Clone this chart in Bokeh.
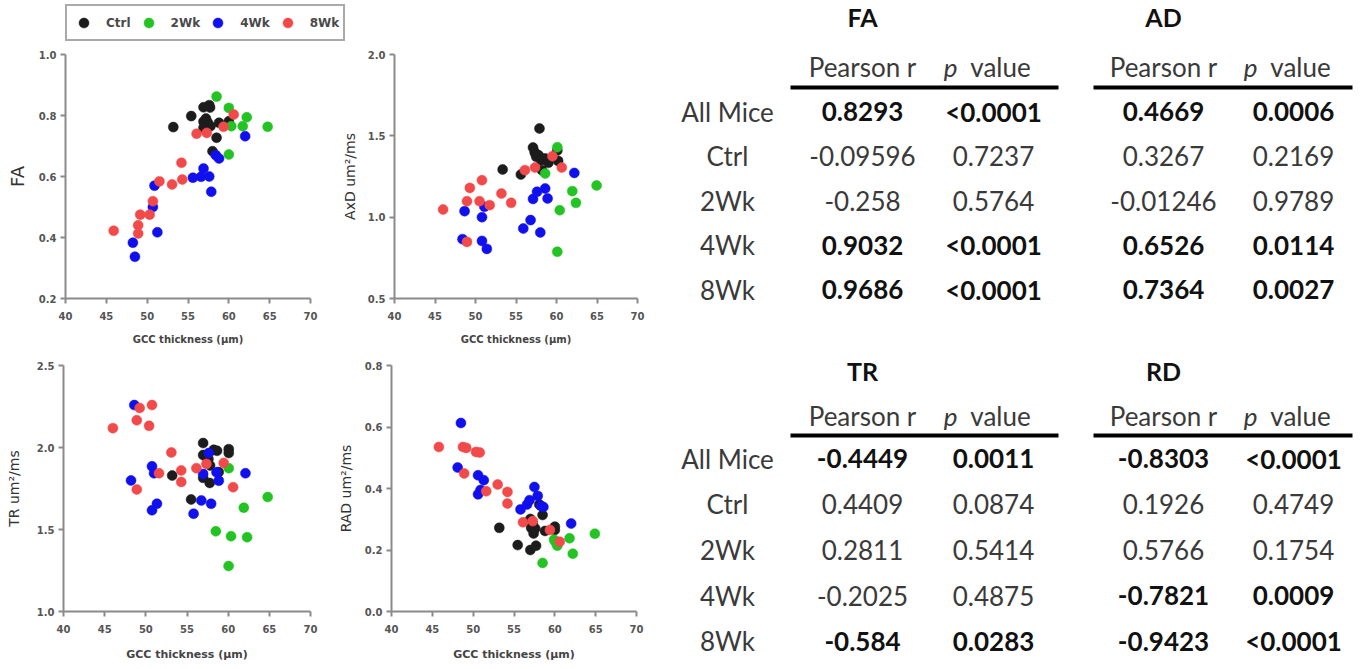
from bokeh.plotting import figure
from bokeh.models import (Range1d, FixedTicker, PrintfTickFormatter, Legend,
                          LegendItem, ColumnDataSource)
from bokeh.layouts import row, column
from bokeh.embed import file_html
from bokeh.resources import INLINE
from bokeh.core.properties import value

# ---------------- data ----------------
GROUPS = ["Ctrl", "2Wk", "4Wk", "8Wk"]
COLORS = ["#1c1c1c", "#22c322", "#1010ee", "#f24a4a"]
X_TICKS = [40, 45, 50, 55, 60, 65, 70]

FA_CTRL = [(53.2, 0.762), (55.4, 0.798), (56.9, 0.827), (57.6, 0.834), (57.7, 0.826),
           (57.2, 0.790), (56.9, 0.780), (57.4, 0.778), (57.75, 0.765), (56.9, 0.760),
           (58.8, 0.776), (60.0, 0.781), (58.5, 0.727), (58.0, 0.683)]
FA_2WK = [(58.5, 0.862), (60.0, 0.825), (62.2, 0.794), (61.7, 0.765), (60.3, 0.765),
          (64.75, 0.763), (60.0, 0.672)]
FA_4WK = [(62.0, 0.732), (58.4, 0.670), (58.8, 0.659), (56.9, 0.626), (55.6, 0.596),
          (56.6, 0.599), (57.6, 0.600), (57.85, 0.550), (50.9, 0.570), (50.7, 0.500),
          (51.25, 0.417), (48.25, 0.383), (48.5, 0.337)]
FA_8WK = [(45.9, 0.422), (48.9, 0.440), (48.9, 0.413), (49.15, 0.475), (50.3, 0.475),
          (50.7, 0.519), (51.5, 0.584), (53.05, 0.574), (54.3, 0.590), (54.2, 0.645),
          (56.05, 0.740), (57.3, 0.743), (59.35, 0.763), (60.6, 0.803)]

AXD_CTRL = [(57.9, 1.545), (57.1, 1.428), (57.3, 1.400), (57.8, 1.380), (57.5, 1.371),
            (58.1, 1.350), (58.6, 1.361), (59.0, 1.334), (60.2, 1.346), (60.1, 1.410),
            (53.35, 1.293), (55.6, 1.262), (58.2, 1.289), (57.4, 1.390)]
AXD_2WK = [(60.1, 1.430), (58.6, 1.268), (61.95, 1.160), (62.4, 1.088), (64.95, 1.195),
           (60.4, 1.043), (60.1, 0.787)]
AXD_4WK = [(62.2, 1.272), (58.6, 1.176), (57.6, 1.156), (57.1, 1.112), (58.9, 1.115),
           (56.8, 0.982), (55.9, 0.930), (58.0, 0.906), (51.1, 1.064), (50.8, 1.000),
           (50.8, 0.854), (51.4, 0.805), (48.65, 1.037), (48.4, 0.865)]
AXD_8WK = [(46.0, 1.047), (48.95, 0.848), (48.95, 1.098), (49.3, 1.180), (50.5, 1.098),
           (50.8, 1.227), (51.75, 1.074), (53.2, 1.145), (54.4, 1.088), (56.1, 1.289),
           (57.35, 1.305), (59.5, 1.375), (60.65, 1.305)]

TR_CTRL = [(56.96, 2.027), (58.25, 1.986), (58.65, 1.980), (60.07, 1.990), (60.07, 1.966),
           (56.96, 1.954), (57.3, 1.945), (53.2, 1.829), (57.76, 1.784), (56.96, 1.815),
           (55.5, 1.683), (57.8, 1.890), (58.85, 1.850), (57.6, 1.930)]
TR_2WK = [(60.07, 1.874), (64.8, 1.698), (61.9, 1.633), (58.5, 1.489), (60.35, 1.459),
          (62.3, 1.453), (60.05, 1.277)]
TR_4WK = [(48.6, 2.259), (48.2, 1.799), (50.75, 1.885), (51.0, 1.843), (51.35, 1.657),
          (50.75, 1.617), (55.8, 1.596), (56.74, 1.677), (57.93, 1.657), (56.96, 1.839),
          (57.64, 1.966), (58.58, 1.849), (58.86, 1.798), (62.1, 1.843)]
TR_8WK = [(46.0, 2.118), (49.25, 2.241), (48.9, 2.166), (50.75, 2.259), (50.4, 2.132),
          (48.9, 1.744), (51.6, 1.843), (53.1, 1.970), (54.3, 1.860), (54.3, 1.790),
          (56.14, 1.874), (57.36, 1.900), (59.46, 1.906), (60.6, 1.758)]

RAD_CTRL = [(53.2, 0.272), (55.45, 0.216), (57.0, 0.200), (57.7, 0.214), (57.0, 0.301),
            (57.1, 0.272), (57.6, 0.270), (57.4, 0.254), (58.1, 0.348), (58.5, 0.314),
            (58.8, 0.262), (60.0, 0.276), (60.0, 0.265), (57.3, 0.285)]
RAD_2WK = [(58.5, 0.158), (59.9, 0.233), (60.3, 0.214), (61.8, 0.238), (62.2, 0.188),
           (64.9, 0.253), (60.1, 0.225)]
RAD_4WK = [(48.5, 0.613), (48.1, 0.468), (50.6, 0.443), (51.3, 0.427), (50.9, 0.395),
           (50.6, 0.381), (55.8, 0.332), (56.6, 0.348), (56.9, 0.362), (57.5, 0.405),
           (57.9, 0.376), (58.3, 0.343), (58.6, 0.340), (62.0, 0.286)]
RAD_8WK = [(45.8, 0.535), (48.75, 0.535), (49.15, 0.532), (50.35, 0.519), (50.8, 0.517),
           (48.9, 0.449), (51.6, 0.391), (53.0, 0.413), (54.2, 0.389), (54.2, 0.351),
           (56.1, 0.290), (57.3, 0.294), (59.4, 0.265), (60.6, 0.227)]

FA_Y_TICKS = [0.2, 0.4, 0.6, 0.8, 1.0]
AXD_Y_TICKS = [0.5, 1.0, 1.5, 2.0]
TR_Y_TICKS = [1.0, 1.5, 2.0, 2.5]
RAD_Y_TICKS = [0.0, 0.2, 0.4, 0.6, 0.8]

ROW_LABELS = ["All Mice", "Ctrl", "2Wk", "4Wk", "8Wk"]
FA_R = ["0.8293", "-0.09596", "-0.258", "0.9032", "0.9686"]
FA_P = ["<0.0001", "0.7237", "0.5764", "<0.0001", "<0.0001"]
FA_BOLD = [True, False, False, True, True]
AD_R = ["0.4669", "0.3267", "-0.01246", "0.6526", "0.7364"]
AD_P = ["0.0006", "0.2169", "0.9789", "0.0114", "0.0027"]
AD_BOLD = [True, False, False, True, True]
TR_R = ["-0.4449", "0.4409", "0.2811", "-0.2025", "-0.584"]
TR_P = ["0.0011", "0.0874", "0.5414", "0.4875", "0.0283"]
TR_BOLD = [True, False, False, False, True]
RD_R = ["-0.8303", "0.1926", "0.5766", "-0.7821", "-0.9423"]
RD_P = ["<0.0001", "0.4749", "0.1754", "0.0009", "<0.0001"]
RD_BOLD = [True, False, False, True, True]

AXIS_FONT = "DejaVu Sans"
TABLE_FONT = "Lato"


def group_sources(groups):
    return [ColumnDataSource(dict(x=[a for a, b in pts], y=[b for a, b in pts]))
            for pts in groups]


def scatter_fig(groups, ylabel, yr, yticks, width, height, mbl, mbr, mbt, mbb,
                ylabel_size, ylabel_standoff, xlabel_size, xlabel_standoff):
    p = figure(width=width, height=height, x_range=Range1d(40, 70),
               y_range=Range1d(*yr), output_backend="svg", toolbar_location=None,
               min_border_left=mbl, min_border_right=mbr, min_border_top=mbt,
               min_border_bottom=mbb)
    for src, c in zip(group_sources(groups), COLORS):
        p.scatter("x", "y", source=src, size=10, fill_color=c, line_color=c,
                  line_width=0.5)
    p.grid.visible = False
    p.outline_line_color = None
    p.xaxis.ticker = FixedTicker(ticks=X_TICKS)
    p.yaxis.ticker = FixedTicker(ticks=yticks)
    p.yaxis.formatter = PrintfTickFormatter(format="%.1f")
    for ax in (p.xaxis[0], p.yaxis[0]):
        ax.axis_line_color = "#8a8a8a"
        ax.axis_line_width = 2
        ax.major_tick_line_color = "#8a8a8a"
        ax.major_tick_line_width = 2
        ax.major_tick_out = 5
        ax.major_tick_in = 0
        ax.minor_tick_line_color = None
        ax.major_label_text_font = AXIS_FONT
        ax.major_label_text_font_style = "bold"
        ax.major_label_text_font_size = "10px"
        ax.major_label_text_color = "#555555"
    p.xaxis.major_label_standoff = 8
    p.yaxis.major_label_standoff = 4
    p.xaxis.axis_label = "GCC thickness (\u00b5m)"
    p.xaxis.axis_label_text_font = AXIS_FONT
    p.xaxis.axis_label_text_font_style = "bold"
    p.xaxis.axis_label_text_font_size = xlabel_size
    p.xaxis.axis_label_text_color = "#444444"
    p.xaxis.axis_label_standoff = xlabel_standoff
    p.yaxis.axis_label = ylabel
    p.yaxis.axis_label_text_font = AXIS_FONT
    p.yaxis.axis_label_text_font_style = "normal"
    p.yaxis.axis_label_text_font_size = ylabel_size
    p.yaxis.axis_label_text_color = "#333333"
    p.yaxis.axis_label_standoff = ylabel_standoff
    return p


# legend strip: 0..46 ; top row: 46..350 (frames 54..298) ; bottom row: 350..669 (frames 365..611)
fa = scatter_fig([FA_CTRL, FA_2WK, FA_4WK, FA_8WK], "FA", (0.2, 1.0), FA_Y_TICKS,
                 338, 304, 65, 28, 8, 52, "18px", 8, "10px", 11)
axd = scatter_fig([AXD_CTRL, AXD_2WK, AXD_4WK, AXD_8WK], "AxD um\u00b2/ms", (0.5, 2.0),
                  AXD_Y_TICKS, 317, 304, 55, 18, 8, 52, "14px", 7, "10px", 11)
tr = scatter_fig([TR_CTRL, TR_2WK, TR_4WK, TR_8WK], "TR um\u00b2/ms", (1.0, 2.5),
                 TR_Y_TICKS, 334, 319, 63, 24, 15, 58, "14px", 12, "11px", 12)
rad = scatter_fig([RAD_CTRL, RAD_2WK, RAD_4WK, RAD_8WK], "RAD um\u00b2/ms", (0.0, 0.8),
                  RAD_Y_TICKS, 321, 319, 56, 19, 15, 58, "14px", 8, "11px", 12)

# ---------------- legend strip ----------------
leg = figure(width=655, height=46, x_range=Range1d(40, 70), y_range=Range1d(0.2, 1.0),
             x_axis_type=None, y_axis_type=None, min_border=0,
             output_backend="svg", toolbar_location=None)
leg.outline_line_color = None
leg_rs = []
for src, c in zip(group_sources([FA_CTRL, FA_2WK, FA_4WK, FA_8WK]), COLORS):
    r = leg.scatter("x", "y", source=src, size=10, fill_color=c, line_color=c,
                    line_width=0.5)
    r.visible = False  # only the legend swatch is shown here
    leg_rs.append(r)
legend = Legend(items=[LegendItem(label=g, renderers=[r]) for g, r in zip(GROUPS, leg_rs)],
                orientation="horizontal", location=(65, 5))
legend.inactive_fill_alpha = 0
legend.border_line_color = "#555555"
legend.border_line_width = 2
legend.padding = 4
legend.spacing = 5
legend.glyph_width = 25
legend.glyph_height = 25
legend.label_standoff = 10
legend.label_text_font = AXIS_FONT
legend.label_text_font_size = "12px"
legend.label_text_font_style = "bold"
legend.label_text_color = "#4a4a4a"
legend.margin = 0
leg.add_layout(legend)

# ---------------- tables ----------------
TW, TH = 707, 669
tab = figure(width=TW, height=TH, x_range=Range1d(0, TW), y_range=Range1d(TH, 0),
             x_axis_type=None, y_axis_type=None, min_border=0,
             output_backend="svg", toolbar_location=None)
tab.outline_line_color = None

LABEL_X = 72
FS = "26px"
BLOCKS = [  # (title, r values, p values, bold flags, r col x, p col x, line x0, line x1,
            #  title y, header y, line y, first row y, row step)
    ("FA", FA_R, FA_P, FA_BOLD, 207, 338, 135, 403, 16, 66, 87, 111, 44.5),
    ("AD", AD_R, AD_P, AD_BOLD, 508, 638, 438, 697, 16, 66, 87, 111, 44.5),
    ("TR", TR_R, TR_P, TR_BOLD, 207, 338, 135, 403, 370, 415, 435, 458, 45.7),
    ("RD", RD_R, RD_P, RD_BOLD, 508, 638, 438, 697, 370, 415, 435, 458, 45.7),
]

NORMAL_COLOR = "#3a3a3a"
BOLD_COLOR = "#111111"

for (title, rv, pv, bold, rx, px, lx0, lx1, ty, hy, ly, ry0, step) in BLOCKS:
    row_y = [ry0 + step * i for i in range(len(rv))]
    tab.text(x=[rx], y=[ty], text=[title], text_font=value(TABLE_FONT),
             text_font_style="bold", text_font_size="25px", text_color=BOLD_COLOR,
             text_align="center", text_baseline="middle")
    tab.text(x=[rx], y=[hy], text=["Pearson r"], text_font=value(TABLE_FONT),
             text_font_size=FS, text_color=NORMAL_COLOR,
             text_align="center", text_baseline="middle")
    tab.text(x=[px - 43], y=[hy], text=["p"], text_font=value(TABLE_FONT),
             text_font_style="italic", text_font_size=FS, text_color=NORMAL_COLOR,
             text_align="center", text_baseline="middle")
    tab.text(x=[px + 7], y=[hy], text=["value"], text_font=value(TABLE_FONT),
             text_font_size=FS, text_color=NORMAL_COLOR,
             text_align="center", text_baseline="middle")
    tab.segment(x0=[lx0], y0=[ly], x1=[lx1], y1=[ly], line_color="#000000",
                line_width=4)
    if rx < 300:
        tab.text(x=[LABEL_X] * len(ROW_LABELS), y=row_y, text=ROW_LABELS,
                 text_font=value(TABLE_FONT), text_font_size=FS,
                 text_color=NORMAL_COLOR, text_align="center", text_baseline="middle")
    for flag, style, col in ((True, "bold", BOLD_COLOR), (False, "normal", NORMAL_COLOR)):
        ys = [y for y, b in zip(row_y, bold) if b == flag]
        rs = [r for r, b in zip(rv, bold) if b == flag]
        ps = [q for q, b in zip(pv, bold) if b == flag]
        if not ys:
            continue
        tab.text(x=[rx] * len(ys), y=ys, text=rs, text_font=value(TABLE_FONT),
                 text_font_style=style, text_font_size=FS, text_color=col,
                 text_align="center", text_baseline="middle")
        tab.text(x=[px] * len(ys), y=ys, text=ps, text_font=value(TABLE_FONT),
                 text_font_style=style, text_font_size=FS, text_color=col,
                 text_align="center", text_baseline="middle")

left = column(leg, row(fa, axd), row(tr, rad))
page = row(left, tab)

open("out.html", "w").write(file_html(page, INLINE))
